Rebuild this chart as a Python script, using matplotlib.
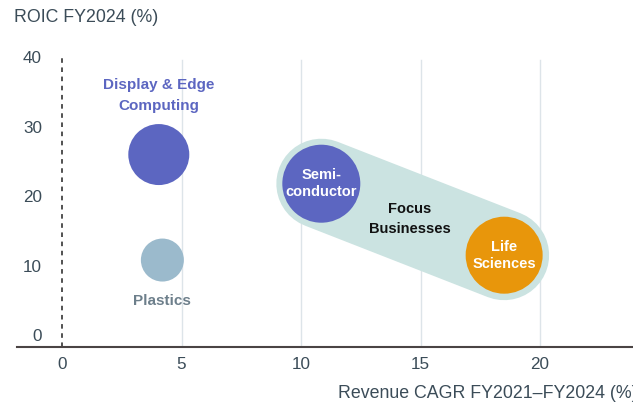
import matplotlib
matplotlib.use("Agg")
import matplotlib.pyplot as plt

plt.rcParams['font.family'] = ['Liberation Sans', 'DejaVu Sans']

# segment positions: revenue CAGR (x) vs ROIC (y)
segments = ['Display & Edge\nComputing', 'Plastics', 'Semi-\nconductor', 'Life\nSciences']
cagr = [4.05, 4.2, 10.85, 18.5]
roic = [26.0, 10.8, 21.8, 11.5]
focus = ['Semi-\nconductor', 'Life\nSciences']

x_ticks = [0, 5, 10, 15, 20]
y_ticks = [0, 10, 20, 30, 40]

# drawing styles
bubble_px = [61, 43, 78, 77]
bubble_color = ['#5c66c1', '#9bbacc', '#5c66c1', '#e8960b']
label_color = {'Display & Edge\nComputing': '#5c66c1', 'Plastics': '#6d7f8b'}
tick_color = '#3b4c58'

dpi = 100
fig = plt.figure(figsize=(6.33, 4.03), dpi=dpi)
W, H = 633, 403
ax = fig.add_axes([17 / W, (H - 347) / H, (W - 17) / W, (347 - 56) / H])

# axis scale: 23.9 px per CAGR point, 6.94 px per ROIC point
px_x = 23.9
px_y = 6.94
ax.set_xlim(-(62 - 17) / px_x, -(62 - 17) / px_x + (W - 17) / px_x)
ax.set_ylim(-(347 - 335) / px_y, -(347 - 335) / px_y + (347 - 56) / px_y)

for s in ['top', 'right', 'left']:
    ax.spines[s].set_visible(False)
ax.spines['bottom'].set_color('#4a4444')
ax.spines['bottom'].set_linewidth(1.5)

# vertical gridlines and dashed zero line
for xv in x_ticks[1:]:
    ax.axvline(xv, color='#dde4e9', lw=1.0, zorder=0, ymax=0.985)
ax.axvline(0, color='#222222', lw=1.1, ls=(0, (3, 3)), zorder=1)

ax.set_xticks(x_ticks)
ax.set_yticks(y_ticks)
ax.tick_params(axis='x', length=0, pad=7, labelsize=12.3, labelcolor=tick_color)
ax.tick_params(axis='y', length=0, pad=-(42 - 17) * 0.72, labelsize=12.3, labelcolor=tick_color)
for lab in ax.get_yticklabels():
    lab.set_horizontalalignment('right')

# capsule around the focus businesses
fi = [segments.index(f) for f in focus]
ax.plot([cagr[i] for i in fi], [roic[i] for i in fi], color='#cbe3e1',
        lw=90 * 72 / dpi, solid_capstyle='round', zorder=2)

sizes = [(d * 72 / dpi) ** 2 for d in bubble_px]
ax.scatter(cagr, roic, s=sizes, c=bubble_color, edgecolors='none', zorder=3)

# labels
ax.text(cagr[0], roic[0] + 59 / px_y, segments[0], ha='center', va='center',
        fontsize=11, fontweight='bold', color=label_color[segments[0]],
        linespacing=1.6)
ax.text(cagr[1], roic[1] - 41 / px_y, segments[1], ha='center', va='center',
        fontsize=11, fontweight='bold', color=label_color[segments[1]])
for i in fi:
    ax.text(cagr[i], roic[i], segments[i], ha='center', va='center',
            fontsize=10.5, fontweight='bold', color='white', linespacing=1.3,
            zorder=4)
ax.text((410 - 62) / px_x, (335 - 219) / px_y, 'Focus\nBusinesses', ha='center',
        va='center', fontsize=10.5, fontweight='bold', color='#111111',
        linespacing=1.5, zorder=4)

fig.text(14 / W, 1 - 18 / H, 'ROIC FY2024 (%)', ha='left', va='center',
         fontsize=12.8, color='#3b4c58')
fig.text(338 / W, 1 - 393 / H, 'Revenue CAGR FY2021\u2013FY2024 (%)', ha='left',
         va='center', fontsize=12.8, color='#3b4c58')

fig.savefig('out.png', dpi=dpi)
